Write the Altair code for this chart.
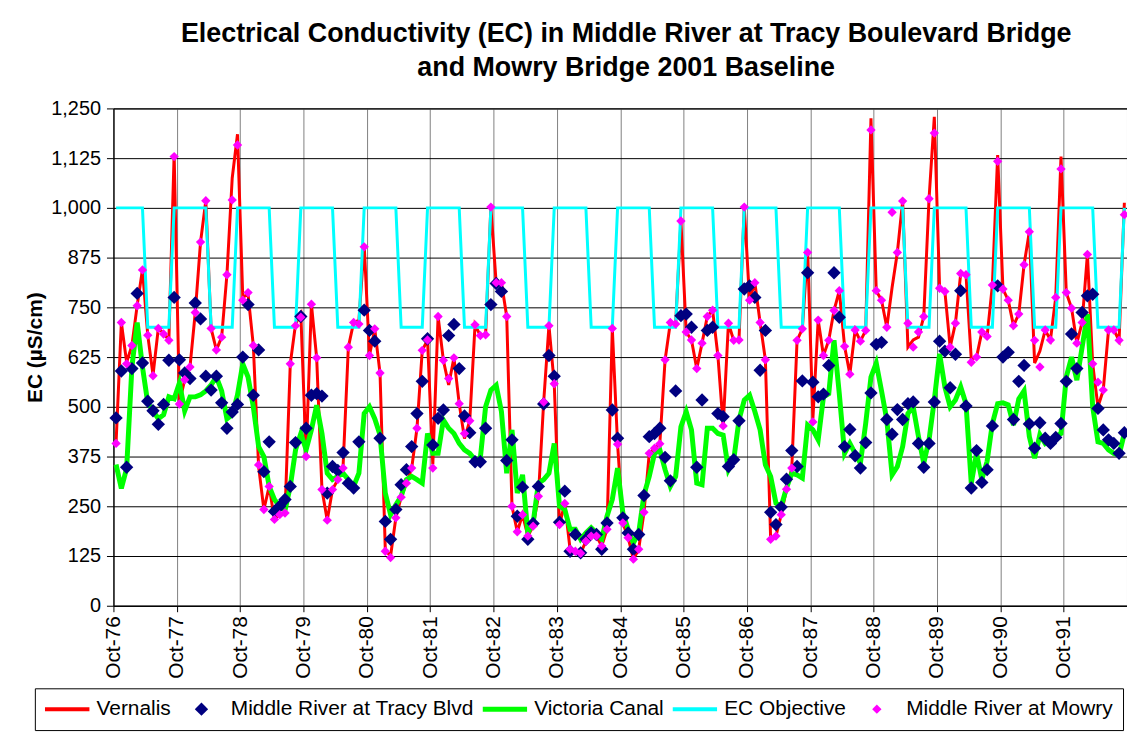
import altair as alt
import pandas as pd

# ---------------- data (one row per water year, Oct..Sep) ----------------
tick_labels = ["Oct-76", "Oct-77", "Oct-78", "Oct-79", "Oct-80", "Oct-81", "Oct-82", "Oct-83",
               "Oct-84", "Oct-85", "Oct-86", "Oct-87", "Oct-88", "Oct-89", "Oct-90", "Oct-91"]

series_names = ["Vernalis", "Middle River at Tracy Blvd", "Victoria Canal",
                "EC Objective", "Middle River at Mowry"]
series_colors = ["#FF0000", "#000080", "#00FF00", "#00FFFF", "#FF00FF"]
# symbol shapes (normalised SVG paths): short bars for the line series, diamonds for markers
series_shapes = [
    "M-1,-0.09H1V0.09H-1Z",
    "M-0.3,0L0,-0.3L0.3,0L0,0.3Z",
    "M-1,-0.11H1V0.11H-1Z",
    "M-1,-0.09H1V0.09H-1Z",
    "M-0.21,0L0,-0.21L0.21,0L0,0.21Z",
]

vernalis = [
    410, 712, 612, 654, 755, 845, 680, 580, 697, 685, 667, 1135,
    510, 568, 600, 737, 914, 1018, 697, 643, 675, 832, 1075, 1185,
    775, 783, 654, 350, 242, 300, 217, 229, 233, 608, 708, 733,
    375, 758, 623, 292, 215, 292, 317, 350, 650, 712, 717, 908,
    629, 696, 585, 140, 125, 221, 273, 308, 346, 446, 642, 668,
    355, 727, 617, 555, 623, 508, 420, 465, 706, 679, 681, 1002,
    810, 812, 727, 250, 186, 229, 175, 200, 275, 512, 704, 558,
    204, 257, 142, 137, 132, 162, 175, 175, 150, 192, 697, 406,
    208, 171, 117, 142, 235, 383, 396, 407, 618, 712, 708, 967,
    688, 668, 596, 660, 727, 743, 629, 452, 710, 667, 668, 1002,
    768, 812, 712, 618, 167, 175, 229, 293, 346, 667, 696, 895,
    470, 718, 629, 667, 742, 792, 652, 582, 693, 665, 692, 1225,
    792, 768, 700, 800, 888, 1017, 650, 668, 675, 727, 1023, 1229,
    800, 790, 650, 710, 835, 832, 620, 625, 688, 677, 806, 1133,
    796, 768, 704, 733, 857, 940, 610, 640, 693, 668, 775, 1129,
    787, 748, 660, 712, 883, 608, 500, 542, 693, 693, 667, 1013,
]

tracy = [
    472, 590, 348, 596, 785, 610, 514, 490, 456, 506, 617, 775,
    618, 585, 571, 761, 721, 577, 542, 577, 510, 446, 487, 506,
    625, 757, 529, 643, 337, 412, 237, 250, 267, 300, 410, 727,
    446, 529, 533, 527, 283, 350, 340, 385, 308, 296, 412, 743,
    692, 665, 421, 212, 167, 242, 304, 342, 400, 483, 564, 671,
    404, 471, 492, 679, 707, 596, 477, 435, 362, 362, 446, 757,
    810, 790, 365, 417, 225, 298, 167, 207, 300, 507, 629, 577,
    210, 288, 137, 179, 133, 167, 183, 179, 142, 208, 492, 421,
    221, 183, 142, 179, 277, 425, 433, 446, 373, 314, 540, 729,
    733, 700, 348, 517, 692, 700, 483, 475, 350, 367, 465, 796,
    804, 775, 592, 692, 235, 204, 248, 318, 390, 350, 565, 837,
    562, 525, 532, 604, 837, 725, 400, 443, 377, 346, 410, 535,
    657, 662, 468, 431, 493, 468, 508, 512, 408, 348, 408, 512,
    665, 640, 548, 632, 792, 502, 296, 390, 310, 342, 452, 804,
    625, 637, 468, 564, 604, 457, 396, 460, 421, 408, 423, 458,
    564, 683, 596, 737, 779, 783, 496, 442, 417, 408, 383, 435,
]

victoria = [
    355, 295, 345, 600, 712, 600, 510, 490, 470, 480, 525, 520,
    560, 490, 525, 525, 530, 540, 555, 575, 540, 470, 480, 530,
    608, 575, 500, 400, 375, 300, 267, 250, 240, 300, 392, 433,
    392, 442, 504, 433, 333, 317, 325, 333, 317, 300, 333, 483,
    500, 470, 429, 283, 229, 254, 275, 317, 325, 317, 308, 433,
    383, 383, 467, 446, 433, 408, 392, 383, 367, 371, 500, 542,
    554, 488, 333, 442, 283, 329, 183, 208, 308, 317, 333, 408,
    250, 242, 192, 192, 167, 183, 196, 183, 167, 225, 267, 346,
    233, 192, 158, 183, 279, 325, 383, 392, 342, 300, 325, 450,
    488, 442, 308, 304, 446, 446, 433, 429, 342, 367, 467, 517,
    529, 488, 442, 354, 325, 258, 250, 296, 333, 329, 321, 454,
    442, 417, 525, 533, 667, 533, 383, 408, 383, 358, 458, 575,
    610, 540, 467, 329, 350, 400, 483, 500, 425, 358, 417, 517,
    633, 550, 500, 517, 550, 508, 308, 383, 317, 363, 458, 508,
    510, 505, 454, 520, 540, 425, 371, 430, 408, 417, 425, 433,
    575, 625, 567, 650, 733, 500, 412, 408, 392, 383, 379, 433,
]

ec_objective = [
    1000, 1000, 1000, 1000, 1000, 1000, 700, 700, 700, 700, 700, 1000,
    1000, 1000, 1000, 1000, 1000, 1000, 700, 700, 700, 700, 700, 1000,
    1000, 1000, 1000, 1000, 1000, 1000, 700, 700, 700, 700, 700, 1000,
    1000, 1000, 1000, 1000, 1000, 1000, 700, 700, 700, 700, 700, 1000,
    1000, 1000, 1000, 1000, 1000, 1000, 700, 700, 700, 700, 700, 1000,
    1000, 1000, 1000, 1000, 1000, 1000, 700, 700, 700, 700, 700, 1000,
    1000, 1000, 1000, 1000, 1000, 1000, 700, 700, 700, 700, 700, 1000,
    1000, 1000, 1000, 1000, 1000, 1000, 700, 700, 700, 700, 700, 1000,
    1000, 1000, 1000, 1000, 1000, 1000, 700, 700, 700, 700, 700, 1000,
    1000, 1000, 1000, 1000, 1000, 1000, 700, 700, 700, 700, 700, 1000,
    1000, 1000, 1000, 1000, 1000, 1000, 700, 700, 700, 700, 700, 1000,
    1000, 1000, 1000, 1000, 1000, 1000, 700, 700, 700, 700, 700, 1000,
    1000, 1000, 1000, 1000, 1000, 1000, 700, 700, 700, 700, 700, 1000,
    1000, 1000, 1000, 1000, 1000, 1000, 700, 700, 700, 700, 700, 1000,
    1000, 1000, 1000, 1000, 1000, 1000, 700, 700, 700, 700, 700, 1000,
    1000, 1000, 1000, 1000, 1000, 1000, 700, 700, 700, 700, 700, 1000,
]

mowry = [
    408, 712, 608, 654, 754, 844, 680, 578, 697, 683, 667, 1129,
    507, 568, 600, 737, 914, 1018, 697, 643, 675, 832, 1020, 1158,
    768, 787, 654, 354, 242, 300, 217, 229, 233, 608, 704, 725,
    375, 758, 623, 292, 215, 292, 317, 346, 650, 712, 708, 902,
    629, 696, 585, 137, 121, 221, 273, 308, 346, 446, 642, 668,
    346, 727, 617, 571, 623, 508, 433, 465, 706, 679, 681, 1002,
    812, 812, 727, 250, 186, 229, 175, 200, 275, 512, 704, 558,
    204, 257, 142, 137, 132, 162, 175, 175, 150, 192, 697, 406,
    208, 171, 117, 142, 235, 383, 396, 407, 618, 712, 708, 967,
    688, 668, 596, 660, 727, 743, 629, 452, 710, 667, 668, 1002,
    768, 812, 712, 618, 167, 175, 229, 293, 346, 667, 696, 888,
    462, 718, 629, 667, 742, 792, 652, 582, 693, 665, 692, 1196,
    792, 768, 700, 989, 888, 1017, 710, 650, 688, 727, 1023, 1188,
    798, 790, 650, 710, 835, 832, 612, 625, 688, 677, 806, 1117,
    796, 768, 704, 733, 857, 940, 667, 600, 693, 668, 775, 1098,
    787, 748, 660, 712, 883, 608, 562, 542, 693, 693, 667, 983,
]

# ---------------- build long table ----------------
frames = []
for name, vals in zip(series_names, [vernalis, tracy, victoria, ec_objective, mowry]):
    frames.append(pd.DataFrame({
        "month": [i + 0.5 for i in range(len(vals))],
        "ec": vals,
        "series": name,
    }))
df = pd.concat(frames, ignore_index=True)

FONT = "Liberation Sans"
label_expr = "[" + ",".join("'%s'" % t for t in tick_labels) + "][round(datum.value / 12)]"

x_enc = alt.X(
    "month:Q",
    scale=alt.Scale(domain=[0, 192], nice=False, zero=False),
    axis=alt.Axis(
        values=list(range(0, 192, 12)), labelExpr=label_expr, title=None,
        labelAngle=270, labelAlign="right", labelBaseline="middle",
        labelFontSize=21, labelFont=FONT, labelColor="black", labelPadding=4,
        labelOverlap=False, labelFlush=False,
        tickSize=6, tickColor="black", domainColor="black",
        grid=True, gridColor="#808080", gridWidth=1,
    ),
)
y_enc = alt.Y(
    "ec:Q",
    scale=alt.Scale(domain=[0, 1250], nice=False),
    axis=alt.Axis(
        values=list(range(0, 1251, 125)), format=",d",
        title="EC (µS/cm)", titleFontSize=21, titleFont=FONT, titleFontWeight="bold",
        titleColor="black", titleX=-78, titleY=240, titleAlign="center",
        titleBaseline="middle", titleAngle=270,
        labelFontSize=20, labelFont=FONT, labelColor="black", labelPadding=6,
        tickSize=7, tickColor="black", domainColor="black",
        grid=True, gridColor="black", gridWidth=1,
    ),
)

color_scale = alt.Scale(domain=series_names, range=series_colors)
shape_scale = alt.Scale(domain=series_names, range=series_shapes)

legend = alt.Legend(
    orient="none", legendX=-79, legendY=583, direction="horizontal", columns=5,
    title=None, labelFontSize=21, labelFont=FONT, labelColor="black",
    labelOffset=7, labelLimit=400, columnPadding=8, padding=10,
    strokeColor="black", fillColor="white", clipHeight=22,
    symbolSize=2000, symbolStrokeWidth=0, symbolType="circle",
)

base = alt.Chart(df)

def line_layer(name, width):
    return base.transform_filter(alt.datum.series == name).mark_line(
        strokeWidth=width, interpolate="linear"
    ).encode(
        x=x_enc, y=y_enc,
        color=alt.Color("series:N", scale=color_scale, legend=legend),
    )

red = line_layer("Vernalis", 3)
green = line_layer("Victoria Canal", 5)
cyan = line_layer("EC Objective", 3)

points = base.transform_filter(
    (alt.datum.series == "Middle River at Tracy Blvd") | (alt.datum.series == "Middle River at Mowry")
).mark_point(filled=True, opacity=1, size=2000, strokeWidth=0).encode(
    x=x_enc, y=y_enc,
    color=alt.Color("series:N", scale=color_scale, legend=legend),
    shape=alt.Shape("series:N", scale=shape_scale, legend=legend),
)

chart = alt.layer(red, green, cyan, points).properties(
    width=1019, height=500,
    autosize=alt.AutoSizeParams(type="none"),
    padding={"left": 106, "top": 99, "right": 0, "bottom": 128},
    title=alt.Title(
        text=["Electrical Conductivity (EC) in Middle River at Tracy Boulevard Bridge",
              "and Mowry Bridge 2001 Baseline"],
        fontSize=27, fontWeight="bold", font=FONT, color="black",
        anchor="middle", lineHeight=34, offset=17, dx=6,
    ),
).configure(
    font=FONT, background="white",
).configure_view(
    stroke="black", strokeWidth=1,
)

chart.save("out.html", embed_options={"renderer": "svg", "actions": False})
